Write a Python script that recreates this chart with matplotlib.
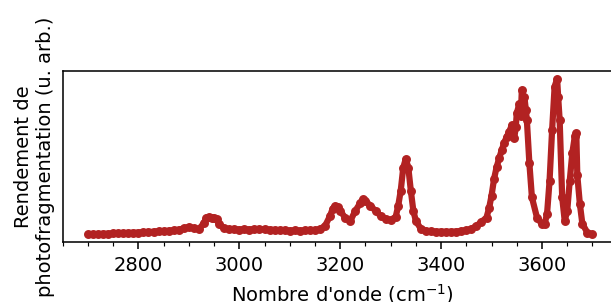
import numpy as np
import matplotlib
matplotlib.use("Agg")
import matplotlib.pyplot as plt
import matplotlib.ticker as mticker

# Spectre IRMPD (u. arb.)
nombre_onde = [
    2700, 2710, 2720, 2730, 2740, 2750, 2760, 2770, 2780, 2790,
    2800, 2810, 2820, 2830, 2840, 2850, 2860, 2870, 2880, 2890,
    2900, 2910, 2920, 2930, 2935, 2940, 2945, 2950, 2955, 2960,
    2970, 2980, 2990, 3000, 3010, 3020, 3030, 3040, 3050, 3060,
    3070, 3080, 3090, 3100, 3110, 3120, 3130, 3140, 3150, 3160,
    3170, 3180, 3185, 3190, 3195, 3200, 3210, 3220, 3230, 3240,
    3245, 3250, 3260, 3270, 3280, 3290, 3300, 3310, 3315, 3320,
    3325, 3330, 3335, 3340, 3345, 3350, 3360, 3370, 3380, 3390,
    3400, 3410, 3420, 3430, 3440, 3450, 3460, 3470, 3480, 3490,
    3495, 3500, 3505, 3510, 3515, 3520, 3525, 3530, 3535, 3540,
    3545, 3548, 3550, 3555, 3558, 3560, 3563, 3565, 3568, 3570,
    3575, 3580, 3590, 3600, 3605, 3610, 3615, 3620, 3625, 3630,
    3632, 3635, 3640, 3645, 3650, 3655, 3660, 3665, 3668, 3670,
    3675, 3680, 3690, 3700,
]
rendement = [
    0.005, 0.005, 0.006, 0.007, 0.008, 0.010, 0.011, 0.012, 0.013, 0.014,
    0.015, 0.017, 0.019, 0.021, 0.023, 0.024, 0.027, 0.030, 0.034, 0.042,
    0.052, 0.043, 0.037, 0.077, 0.112, 0.116, 0.112, 0.108, 0.100, 0.071,
    0.042, 0.037, 0.037, 0.035, 0.037, 0.035, 0.037, 0.036, 0.036, 0.034,
    0.032, 0.030, 0.029, 0.028, 0.029, 0.028, 0.029, 0.030, 0.030, 0.039,
    0.058, 0.123, 0.168, 0.187, 0.181, 0.155, 0.110, 0.090, 0.155, 0.206,
    0.229, 0.219, 0.187, 0.155, 0.123, 0.103, 0.097, 0.116, 0.187, 0.284,
    0.432, 0.487, 0.432, 0.284, 0.155, 0.090, 0.039, 0.026, 0.023, 0.021,
    0.021, 0.020, 0.020, 0.022, 0.026, 0.030, 0.039, 0.058, 0.084, 0.112,
    0.170, 0.252, 0.360, 0.434, 0.490, 0.542, 0.590, 0.628, 0.660, 0.703,
    0.620, 0.690, 0.779, 0.840, 0.760, 0.929, 0.870, 0.886, 0.800, 0.735,
    0.458, 0.241, 0.112, 0.069, 0.069, 0.135, 0.348, 0.671, 0.950, 1.000,
    0.886, 0.735, 0.241, 0.090, 0.155, 0.348, 0.523, 0.632, 0.650, 0.381,
    0.200, 0.071, 0.015, 0.005,
]

couleur = "firebrick"

fig = plt.figure(figsize=(611 / 140, 302 / 140), dpi=140)
# l'axe dépasse à droite : le cadre droit est hors image
ax = fig.add_axes([0.1026, 0.1987, 0.9166, 0.5662])

ax.plot(nombre_onde, rendement, "o-", color=couleur, markersize=3.6,
        linewidth=3.2, solid_capstyle="round", solid_joinstyle="round")

ax.set_xlim(2650, 3760)
ax.xaxis.set_major_locator(mticker.MultipleLocator(200))
ax.xaxis.set_minor_locator(mticker.MultipleLocator(50))
ax.set_yticks([])
ax.set_xlabel("Nombre d'onde (cm$^{-1}$)")
ax.set_ylabel("Rendement de\nphotofragmentation (u. arb.)")

fig.savefig("out.png", dpi=140)
